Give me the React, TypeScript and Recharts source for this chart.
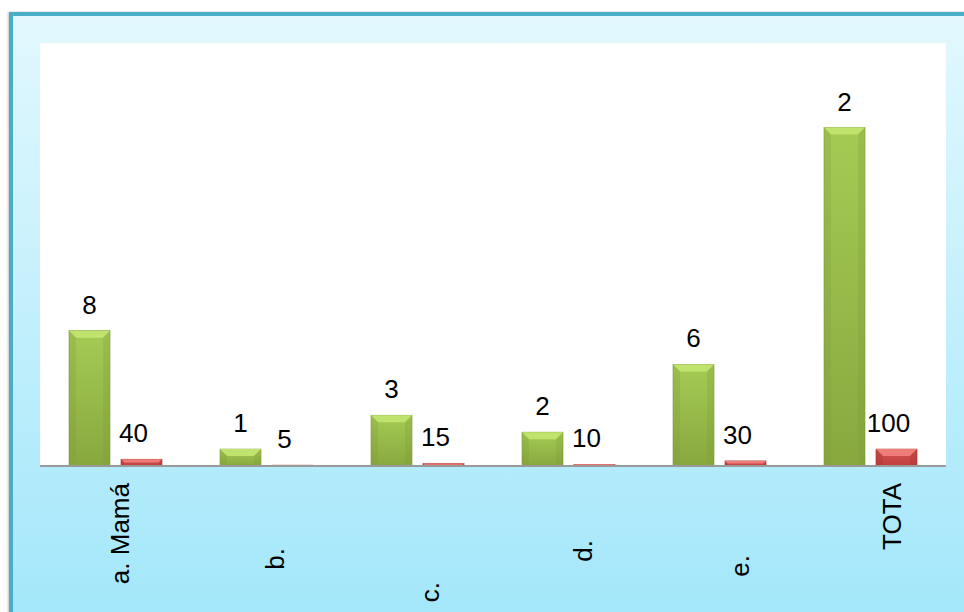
import { BarChart, Bar, XAxis, YAxis, CartesianGrid, LabelList } from "recharts";

const categories = ["a. Mamá", "b.", "c.", "d.", "e.", "TOTA"];
const counts = [8, 1, 3, 2, 6, 20];
const countLabels = ["8", "1", "3", "2", "6", "2"];
const shares = [0.4, 0.05, 0.15, 0.1, 0.3, 1];

const data = categories.map((name, i) => ({ name, count: counts[i], share: shares[i] }));

// rotated tick labels sit at uneven depths in the original
const tickShiftX = [4.5, 8.5, 12.5, 14.5, 20.5, 21.5];
const tickShiftY = [15, 80, 114, 72, 87, 15];

const FONT = '"Liberation Sans", Arial, sans-serif';

const green = { id: "g", edge: "#7a9937", top: "#a5cb55", bottom: "#88a83e", bevel: "#c0e36e" };
const red = { id: "r", edge: "#9a2f2d", top: "#d6514e", bottom: "#c0403d", bevel: "#ee7d79" };

function makeBar(p: typeof green) {
  return (props: any) => {
    const { x, y, width, height } = props;
    if (!height || height <= 0) return <g />;
    const b = Math.min(7, height / 2, width / 2);
    return (
      <g>
        <rect x={x} y={y} width={width} height={height} fill={`url(#main-${p.id})`} stroke={p.edge} strokeWidth={0.6} />
        <polygon points={`${x},${y} ${x + width},${y} ${x + width - b},${y + b} ${x + b},${y + b}`} fill={p.bevel} />
        <polygon points={`${x},${y} ${x + b},${y + b} ${x + b},${y + height} ${x},${y + height}`} fill={p.edge} opacity={0.25} />
        <polygon points={`${x + width},${y} ${x + width - b},${y + b} ${x + width - b},${y + height} ${x + width},${y + height}`} fill={p.edge} opacity={0.25} />
      </g>
    );
  };
}

const GreenBar = makeBar(green);
const RedBar = makeBar(red);

const CountLabel = (props: any) => {
  const { x, y, width, index } = props;
  return (
    <text x={x + width / 2} y={y - 17} textAnchor="middle" fontSize={26} fontFamily={FONT} fill="#000">
      {countLabels[index]}
    </text>
  );
};

const ShareLabel = (props: any) => {
  const { x, y, width, value } = props;
  return (
    <text x={x + width / 2 - 8} y={y - 17} textAnchor="middle" fontSize={26} fontFamily={FONT} fill="#000">
      {Math.round(value * 100)}
    </text>
  );
};

const CategoryTick = (props: any) => {
  const { x, y, payload, index } = props;
  const tx = x + tickShiftX[index];
  const ty = y + tickShiftY[index];
  return (
    <text
      x={tx}
      y={ty}
      dy="0.35em"
      textAnchor="end"
      transform={`rotate(-90 ${tx} ${ty})`}
      fontSize={26}
      fontFamily={FONT}
      fill="#000"
    >
      {payload.value}
    </text>
  );
};

export default function App() {
  return (
    <div style={{ position: "absolute", left: 0, top: 0, width: 964, height: 612, overflow: "hidden" }}>
      <div
        style={{
          position: "absolute",
          left: 9,
          top: 12,
          width: 1000,
          height: 600,
          borderLeft: "4px solid #4bacc6",
          borderTop: "4px solid #4bacc6",
          background: "linear-gradient(#e2f8fe, #a3e7fa)",
          boxShadow: "-1px 0 2px rgba(0,0,0,0.25)",
        }}
      />
      <div style={{ position: "absolute", left: 0, top: 0 }}>
        <BarChart
          width={964}
          height={612}
          data={data}
          margin={{ top: 43, right: 18, bottom: 6, left: 40 }}
          barSize={41}
          barGap={11}
        >
          <defs>
            {[green, red].map((p) => (
              <linearGradient key={p.id} id={`main-${p.id}`} x1="0" y1="0" x2="0" y2="1">
                <stop offset="0%" stopColor={p.top} />
                <stop offset="100%" stopColor={p.bottom} />
              </linearGradient>
            ))}
          </defs>
          <CartesianGrid fill="#ffffff" horizontal={false} vertical={false} />
          <XAxis
            dataKey="name"
            height={140}
            interval={0}
            tickLine={false}
            tickSize={0}
            axisLine={{ stroke: "#9a9a9a", strokeWidth: 2 }}
            tick={<CategoryTick />}
          />
          <YAxis hide domain={[0, 25]} />
          <Bar dataKey="count" shape={GreenBar} isAnimationActive={false}>
            <LabelList dataKey="count" content={<CountLabel />} />
          </Bar>
          <Bar dataKey="share" shape={RedBar} isAnimationActive={false}>
            <LabelList dataKey="share" content={<ShareLabel />} />
          </Bar>
        </BarChart>
      </div>
    </div>
  );
}
